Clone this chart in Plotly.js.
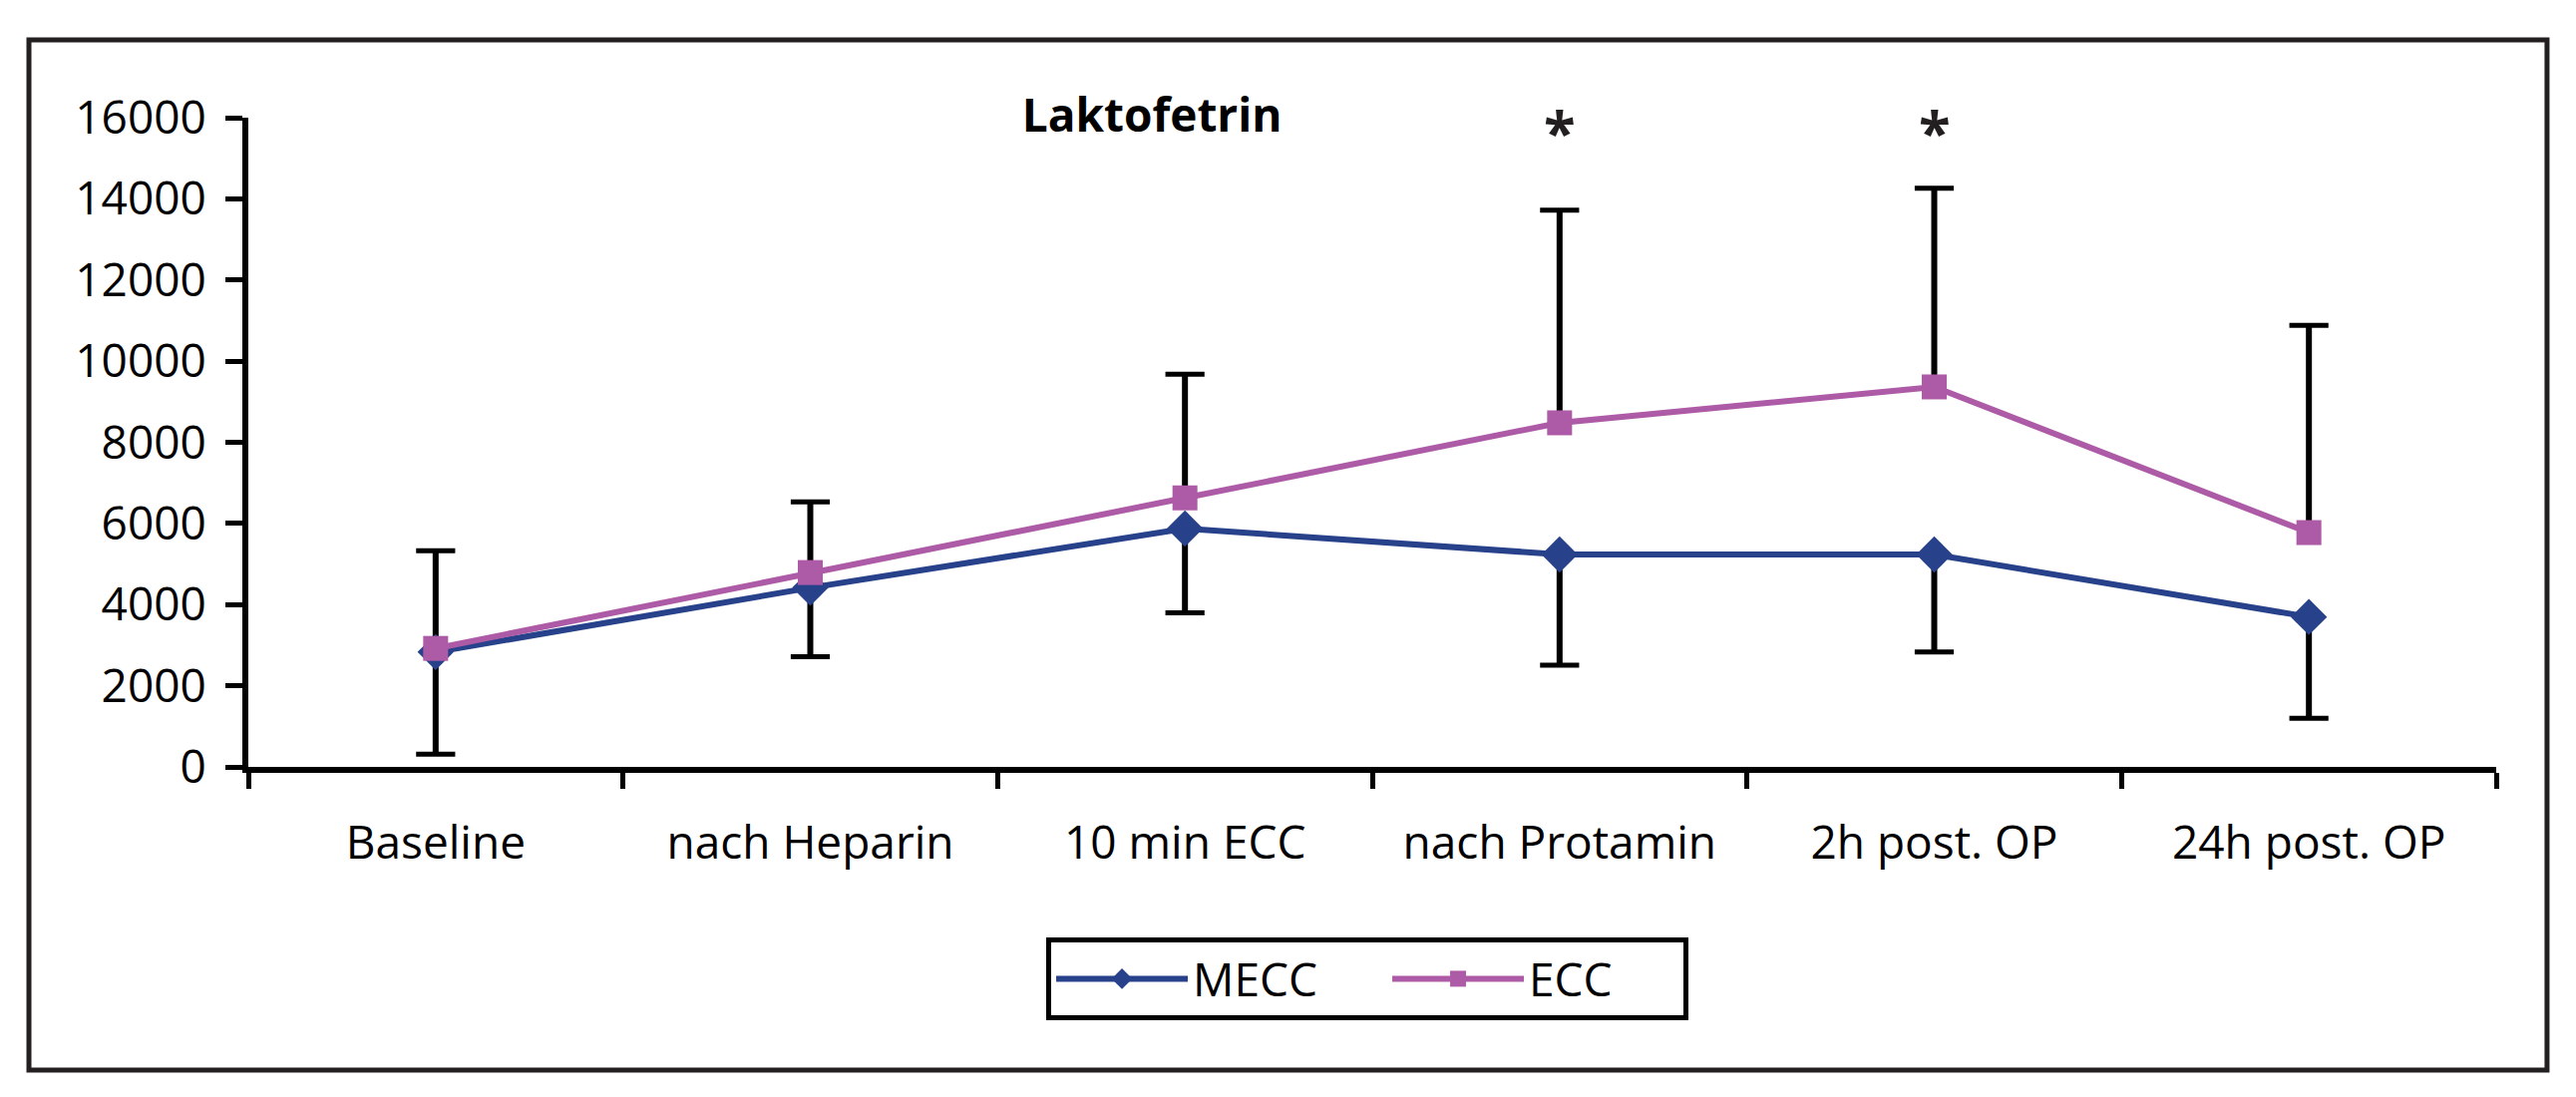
<!DOCTYPE html>
<html>
<head>
<meta charset="utf-8">
<script src="https://cdn.plot.ly/plotly-3.0.1.min.js"></script>
<style>
  html, body { margin: 0; padding: 0; background: #ffffff; }
  #chart { width: 2583px; height: 1100px; }
</style>
</head>
<body>
<div id="chart"></div>
<script>
// ---- data ----
const categories = ['Baseline', 'nach Heparin', '10 min ECC', 'nach Protamin', '2h post. OP', '24h post. OP'];
const meccMean = [2830, 4415, 5875, 5235, 5235, 3695];
const meccSD   = [2515, 1700, 2075, 2730, 2400, 2495];
const eccMean  = [2920, 4790, 6630, 8480, 9365, 5775];
const eccSD    = [2410, 1740, 3050, 5240, 4895, 5105];
const significant = ['nach Protamin', '2h post. OP'];
const chartTitle = 'Laktofetrin';

// ---- styles ----
const FONT = 'Open Sans, Noto Sans, sans-serif';
const FS = 46;
const MECC_COLOR = '#27418a';
const ECC_COLOR = '#ad5ba6';

const eccUpper = eccMean.map((m, i) => m + eccSD[i]);
const meccLower = meccMean.map((m, i) => m - meccSD[i]);
const zeros = categories.map(() => 0);

function capTrace(yvals, down, up) {
  return {
    type: 'scatter', mode: 'markers', x: categories, y: yvals,
    marker: { symbol: 'line-ew', size: 28, color: '#000', line: { width: 5, color: '#000' } },
    error_y: { type: 'data', symmetric: false, array: up, arrayminus: down, width: 0, thickness: 6, color: '#000' },
    showlegend: false, hoverinfo: 'skip'
  };
}

const traces = [
  capTrace(eccUpper, eccSD, zeros),
  capTrace(meccLower, zeros, meccSD),
  {
    type: 'scatter', mode: 'lines+markers', name: 'MECC', x: categories, y: meccMean,
    line: { color: MECC_COLOR, width: 6 },
    marker: { symbol: 'diamond', size: 28, color: MECC_COLOR },
    legendwidth: 190
  },
  {
    type: 'scatter', mode: 'lines+markers', name: 'ECC', x: categories, y: eccMean,
    line: { color: ECC_COLOR, width: 6 },
    marker: { symbol: 'square', size: 25, color: ECC_COLOR },
    legendwidth: 150
  }
];

const layout = {
  width: 2583, height: 1100,
  margin: { l: 249, r: 80, t: 118, b: 331 },
  paper_bgcolor: '#ffffff', plot_bgcolor: '#ffffff',
  font: { family: FONT, size: FS, color: '#000' },
  title: {
    text: chartTitle,
    font: { family: FONT, size: FS, weight: 700, color: '#000' },
    xref: 'paper', x: 0.402, xanchor: 'center',
    yref: 'container', y: 0.8945, yanchor: 'middle'
  },
  xaxis: {
    type: 'category', range: [-0.5, 5.5], tickson: 'boundaries',
    ticks: 'outside', ticklen: 16, tickwidth: 5, tickcolor: '#000',
    showline: true, linewidth: 6, linecolor: '#000',
    showgrid: false, zeroline: false, ticklabelstandoff: 31,
    tickfont: { family: FONT, size: FS, color: '#000' }
  },
  yaxis: {
    range: [0, 16000], dtick: 2000, tick0: 0, tickformat: 'd',
    ticks: 'outside', ticklen: 17, tickwidth: 5, tickcolor: '#000',
    showline: true, linewidth: 6, linecolor: '#000',
    showgrid: false, zeroline: false, ticklabelstandoff: 10,
    tickfont: { family: FONT, size: FS, color: '#000' }
  },
  legend: {
    orientation: 'h', x: 0.4978, xanchor: 'center', y: -0.2627, yanchor: 'top',
    bordercolor: '#000', borderwidth: 5, bgcolor: '#ffffff',
    font: { family: FONT, size: FS, color: '#000' },
    itemwidth: 132
  },
  annotations: significant.map(c => ({
    x: c, xref: 'x', y: 0.980, yref: 'paper', text: '*', showarrow: false,
    yanchor: 'middle', font: { family: FONT, size: 58, weight: 700, color: '#231f20' }
  })),
  shapes: [{
    type: 'rect', xref: 'paper', yref: 'paper',
    x0: -0.0976, x1: 1.0226, y0: -0.467, y1: 1.12,
    line: { width: 5, color: '#231f20' }, fillcolor: 'rgba(0,0,0,0)', layer: 'above'
  }],
  showlegend: true
};

Plotly.newPlot('chart', traces, layout, { displayModeBar: false, staticPlot: true });
</script>
</body>
</html>
